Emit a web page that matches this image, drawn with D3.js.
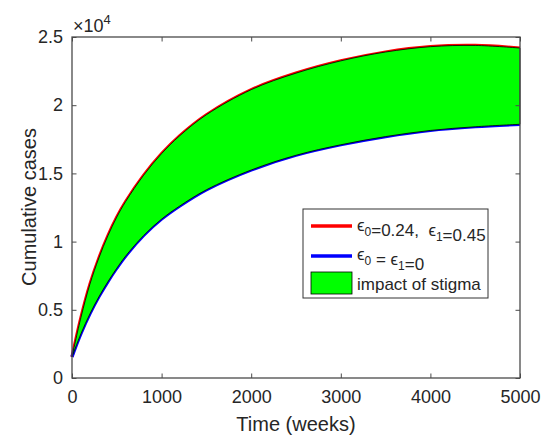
<!DOCTYPE html>
<html>
<head>
<meta charset="utf-8">
<script src="https://cdn.jsdelivr.net/npm/d3@7"></script>
<style>
  html, body { margin: 0; padding: 0; background: #fff; }
  svg { display: block; }
  text { font-family: Arial, "Liberation Sans", Helvetica, sans-serif; fill: #262626; }
</style>
</head>
<body>
<svg id="chart" width="541" height="439"></svg>
<script>
// Weeks at which the cumulative case curves are sampled
const weeks = [0, 100, 200, 300, 400, 500, 600, 800, 1000, 1200, 1500, 2000, 2500, 3000, 3500, 4000, 4500, 5000];

// Cumulative cases with stigma (eps0 = 0.24, eps1 = 0.45)
const casesStigma = [1550, 4450, 6880, 8800, 10420, 11800, 12950, 14870, 16450, 17750, 19300, 21140, 22350, 23250, 23900, 24290, 24380, 24190];

// Cumulative cases without stigma (eps0 = eps1 = 0)
const casesNoStigma = [1550, 3250, 4700, 5950, 7050, 8050, 8950, 10450, 11650, 12600, 13800, 15250, 16330, 17100, 17700, 18150, 18420, 18600];

const xTicks = [0, 1000, 2000, 3000, 4000, 5000];
const yTicks = [0, 5000, 10000, 15000, 20000, 25000];
const yTickLabels = ["0", "0.5", "1", "1.5", "2", "2.5"];

const hiPts = weeks.map((t, i) => ({ t, c: casesStigma[i] }));
const loPts = weeks.map((t, i) => ({ t, c: casesNoStigma[i] }));

const svg = d3.select("#chart");
const m = { left: 72, right: 520, top: 37, bottom: 378 };

const x = d3.scaleLinear().domain([0, 5000]).range([m.left, m.right]);
const y = d3.scaleLinear().domain([0, 25000]).range([m.bottom, m.top]);

const curve = d3.curveCatmullRom.alpha(0.5);
const axisColor = "#4a4a4a";

const line = d3.line().x(d => x(d.t)).y(d => y(d.c)).curve(curve);

// Curves first, then the shaded band with its thin black edge on top
svg.append("path").datum(hiPts).attr("d", line)
  .attr("fill", "none").attr("stroke", "#ff0000").attr("stroke-width", 3.2);
svg.append("path").datum(loPts).attr("d", line)
  .attr("fill", "none").attr("stroke", "#0000ff").attr("stroke-width", 3.2);

// Band between the two curves
const band = d3.area()
  .x((d, i) => x(weeks[i]))
  .y0((d, i) => y(casesNoStigma[i]))
  .y1((d, i) => y(casesStigma[i]))
  .curve(curve);
svg.append("path").datum(weeks).attr("d", band)
  .attr("fill", "#00ff00").attr("stroke", "#000").attr("stroke-width", 0.8);

// Axes: ticks pointing inward, mirrored on the top and right edges
const tickLen = 4.5;
const fontTick = 18;

const xAxis = d3.axisBottom(x).tickValues(xTicks).tickFormat(d3.format("d"))
  .tickSizeInner(-tickLen).tickSizeOuter(0).tickPadding(12);
const xg = svg.append("g").attr("transform", `translate(0,${m.bottom})`).call(xAxis);
xg.selectAll("text").attr("font-size", fontTick).attr("fill", "#262626")
  .style("font-family", "Arial, 'Liberation Sans', sans-serif");

const yAxis = d3.axisLeft(y).tickValues(yTicks).tickFormat((d, i) => yTickLabels[i])
  .tickSizeInner(-tickLen).tickSizeOuter(0).tickPadding(9);
const yg = svg.append("g").attr("transform", `translate(${m.left},0)`).call(yAxis);
yg.selectAll("text").attr("font-size", fontTick).attr("fill", "#262626")
  .style("font-family", "Arial, 'Liberation Sans', sans-serif");

const xTop = d3.axisTop(x).tickValues(xTicks).tickSizeInner(-tickLen).tickSizeOuter(0).tickFormat("");
svg.append("g").attr("transform", `translate(0,${m.top})`).call(xTop);
const yRight = d3.axisRight(y).tickValues(yTicks).tickSizeInner(-tickLen).tickSizeOuter(0).tickFormat("");
svg.append("g").attr("transform", `translate(${m.right},0)`).call(yRight);

svg.selectAll(".domain").remove();
svg.selectAll(".tick line").attr("stroke", axisColor).attr("stroke-width", 1);

svg.append("rect")
  .attr("x", m.left).attr("y", m.top)
  .attr("width", m.right - m.left).attr("height", m.bottom - m.top)
  .attr("fill", "none").attr("stroke", axisColor).attr("stroke-width", 1.3);

// Exponent marker above the y axis
const expo = svg.append("text").attr("x", 73).attr("y", 32).attr("font-size", 18);
expo.append("tspan").text("×10");
expo.append("tspan").attr("dy", -8).attr("font-size", 13).text("4");

// Axis titles
svg.append("text").attr("x", (m.left + m.right) / 2).attr("y", 431)
  .attr("text-anchor", "middle").attr("font-size", 20).text("Time (weeks)");
svg.append("text").attr("transform", "translate(36,207) rotate(-90)")
  .attr("text-anchor", "middle").attr("font-size", 20).text("Cumulative cases");

// Legend
const lg = svg.append("g");
lg.append("rect").attr("x", 303).attr("y", 209).attr("width", 185).attr("height", 89)
  .attr("fill", "#fff").attr("stroke", "#333").attr("stroke-width", 1);

const legendFont = 17;
function epsLabel(g, yBase, parts) {
  const t = g.append("text").attr("x", 357).attr("y", yBase).attr("font-size", legendFont);
  parts.forEach(p => {
    if (p.sub) {
      t.append("tspan").attr("dy", 5).attr("font-size", 12).text(p.sub);
      t.append("tspan").attr("dy", -5).text("");
    } else {
      t.append("tspan").text(p.s);
    }
  });
}

lg.append("line").attr("x1", 311).attr("x2", 352).attr("y1", 226).attr("y2", 226)
  .attr("stroke", "#ff0000").attr("stroke-width", 3.5);
epsLabel(lg, 231, [{ s: "ϵ" }, { sub: "0" }, { s: "=0.24,\u00a0\u00a0ϵ" }, { sub: "1" }, { s: "=0.45" }]);

lg.append("line").attr("x1", 311).attr("x2", 352).attr("y1", 256).attr("y2", 256)
  .attr("stroke", "#0000ff").attr("stroke-width", 3.5);
epsLabel(lg, 260, [{ s: "ϵ" }, { sub: "0" }, { s: " = ϵ" }, { sub: "1" }, { s: "=0" }]);

lg.append("rect").attr("x", 311).attr("y", 272).attr("width", 41).attr("height", 22)
  .attr("fill", "#00ff00").attr("stroke", "#000").attr("stroke-width", 0.8);
lg.append("text").attr("x", 357).attr("y", 290).attr("font-size", legendFont).text("impact of stigma");
</script>
</body>
</html>
